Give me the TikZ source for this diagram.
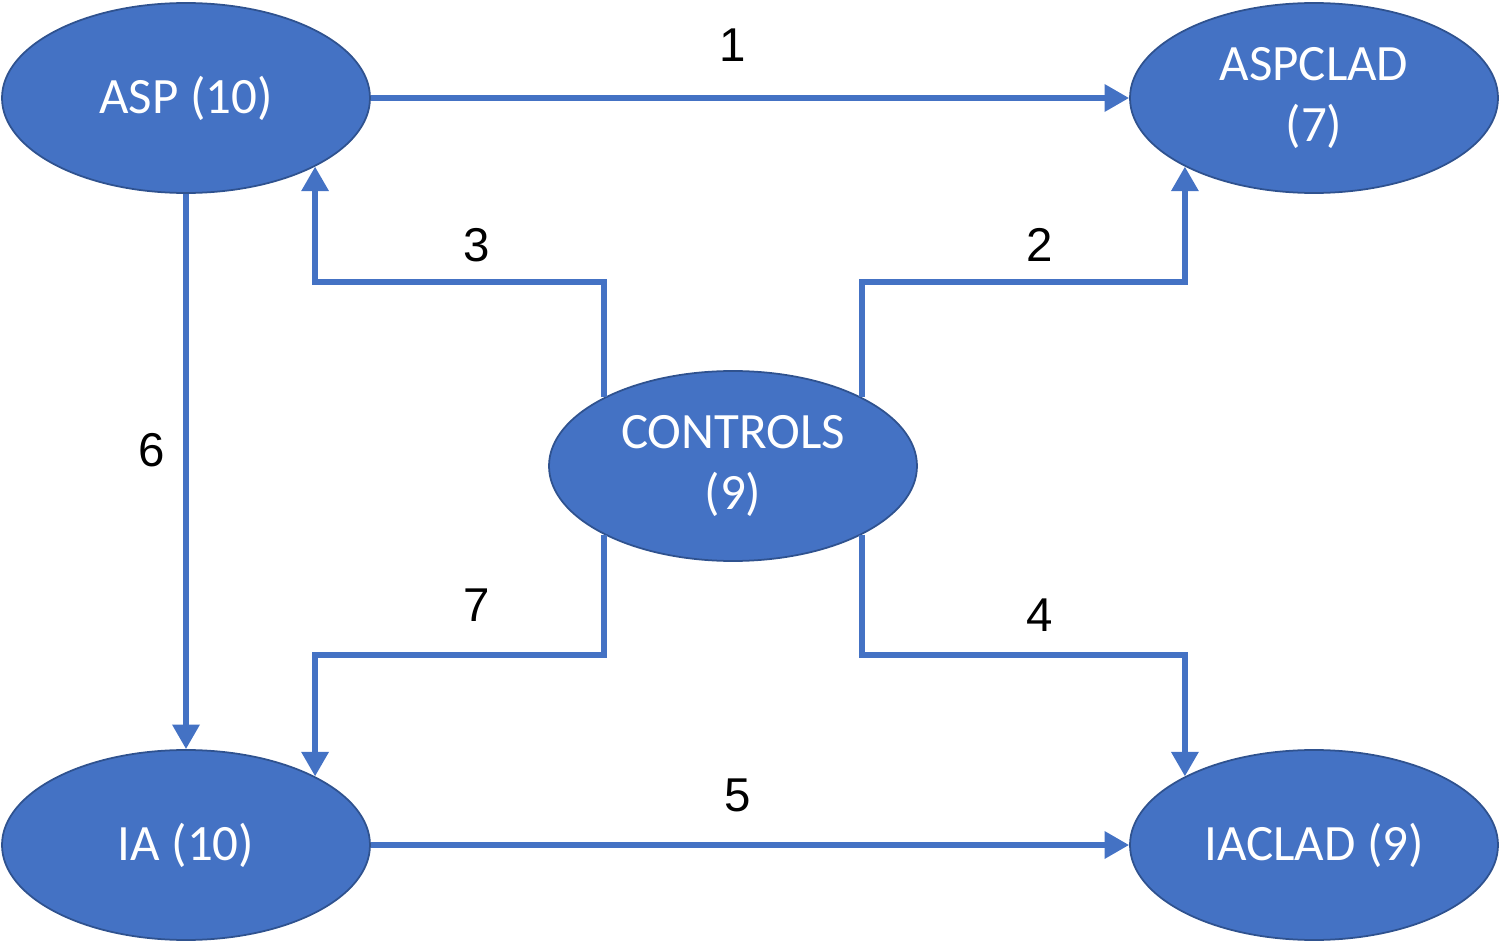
\documentclass[tikz,border=0pt]{standalone}
\usepackage{fontspec}
\setmainfont{Liberation Sans}
\newfontfamily\boxfont{Carlito}
\usetikzlibrary{shapes.geometric,arrows.meta}
\definecolor{nodeblue}{HTML}{4472C4}
\definecolor{edgeblue}{HTML}{2F528F}
\tikzset{
  grp/.style={ellipse, draw=edgeblue, line width=0.5pt, fill=nodeblue, text=white,
    minimum width=3.68cm, minimum height=1.9cm, inner sep=0pt, align=center,
    font=\boxfont\fontsize{14.5}{17.5}\selectfont},
  link/.style={draw=nodeblue, line width=1.6pt, -{Triangle[length=7pt,width=7.5pt]}},
  num/.style={text=black, font=\fontsize{13.5}{15}\selectfont},
}

\begin{document}
\begin{tikzpicture}
\useasboundingbox (0,0) rectangle (15,9.43);
\node[grp] (asp) at (1.86,8.45) {ASP (10)};
\node[grp] (aspclad) at (13.14,8.45) {ASPCLAD\\(7)};
\node[grp] (ctrl) at (7.33,4.77) {CONTROLS\\(9)};
\node[grp] (ia) at (1.86,0.98) {IA (10)};
\node[grp] (iaclad) at (13.14,0.98) {IACLAD (9)};
\coordinate (top) at (0,6.61);
\coordinate (bot) at (0,2.88);
\draw[link] (asp) -- (aspclad);
\draw[link] (ia) -- (iaclad);
\draw[link] (asp) -- (ia);
\draw[link] (ctrl.28) |- (aspclad.-152 |- top) -- (aspclad.-152);
\draw[link] (ctrl.152) |- (asp.-28 |- top) -- (asp.-28);
\draw[link] (ctrl.-28) |- (iaclad.152 |- bot) -- (iaclad.152);
\draw[link] (ctrl.-152) |- (ia.28 |- bot) -- (ia.28);
\node[num] (n1) at (7.33,8.98) {1};
\node[num] (n2) at (10.40,6.98) {2};
\node[num] (n3) at (4.77,6.98) {3};
\node[num] (n4) at (10.40,3.28) {4};
\node[num] (n5) at (7.38,1.48) {5};
\node[num] (n6) at (1.52,4.93) {6};
\node[num] (n7) at (4.77,3.38) {7};
\end{tikzpicture}
\end{document}
